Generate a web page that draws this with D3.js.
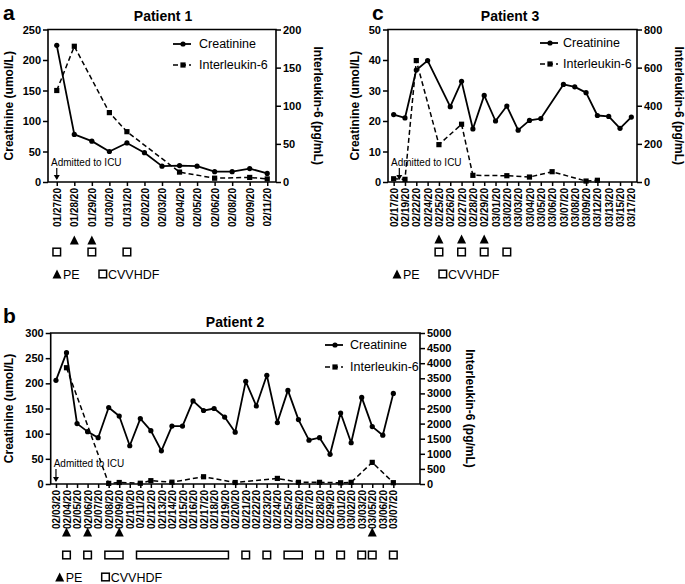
<!DOCTYPE html>
<html>
<head>
<meta charset="UTF-8">
<title>Creatinine and Interleukin-6</title>
<script src="https://cdnjs.cloudflare.com/ajax/libs/d3/7.8.5/d3.min.js"></script>
<style>
    html, body { margin: 0; padding: 0; background: #fff; }
    svg { font-family: "Liberation Sans", Arial, Helvetica, sans-serif; }
    .axis line { stroke: #000; stroke-width: 1.5; }
    .axis path { display: none; }
    .axis text { font-weight: bold; font-size: 11px; fill: #000; }
    .axis.x text { font-size: 10px; }
</style>
</head>
<body>
<div id="chart"></div>
<script>
// Patient 1
const p1Dates = ["01/27/20","01/28/20","01/29/20","01/30/20","01/31/20","02/02/20","02/03/20","02/04/20","02/05/20","02/06/20","02/08/20","02/09/20","02/11/20"];
const p1Creatinine = [224, 78, 67, 50, 64, 48, 26, 27, 26, 17, 17, 22, 14];
const p1IL6 = [120, 178, null, 91, 66, null, null, 13, null, 5, null, 6, 4];
const p1PE = ["01/28/20","01/29/20"];
const p1CVVHDF = [["01/27/20","01/27/20"],["01/29/20","01/29/20"],["01/31/20","01/31/20"]];

// Patient 2
const p2Dates = ["02/03/20","02/04/20","02/05/20","02/06/20","02/07/20","02/08/20","02/09/20","02/10/20","02/11/20","02/12/20","02/13/20","02/14/20","02/15/20","02/16/20","02/17/20","02/18/20","02/19/20","02/20/20","02/21/20","02/22/20","02/23/20","02/24/20","02/25/20","02/26/20","02/27/20","02/28/20","02/29/20","03/01/20","03/02/20","03/03/20","03/05/20","03/06/20","03/07/20"];
const p2Creatinine = [206, 261, 120, 104, 92, 152, 135, 76, 130, 106, 66, 115, 115, 165, 146, 150, 133, 103, 204, 155, 216, 122, 186, 128, 87, 92, 59, 141, 82, 172, 114, 97, 180];
const p2IL6 = [null, 3850, null, null, null, 20, 50, null, 25, 110, null, 60, null, null, 240, null, null, 50, null, null, null, 185, null, 55, null, 55, null, 40, 55, null, 716, null, 44];
const p2PE = ["02/04/20","02/06/20","02/09/20","03/05/20"];
const p2CVVHDF = [["02/04/20","02/04/20"],["02/06/20","02/06/20"],["02/08/20","02/09/20"],["02/11/20","02/19/20"],["02/21/20","02/21/20"],["02/23/20","02/23/20"],["02/25/20","02/26/20"],["02/28/20","02/28/20"],["03/01/20","03/01/20"],["03/03/20","03/03/20"],["03/05/20","03/05/20"],["03/07/20","03/07/20"]];

// Patient 3
const p3Dates = ["02/17/20","02/19/20","02/22/20","02/24/20","02/25/20","02/26/20","02/27/20","02/28/20","02/29/20","03/01/20","03/02/20","03/03/20","03/04/20","03/05/20","03/06/20","03/07/20","03/08/20","03/09/20","03/12/20","03/13/20","03/15/20","03/17/20"];
const p3Creatinine = [22.1, 21.0, 36.7, 39.8, null, 24.7, 33.0, 17.4, 28.4, 20.0, 24.9, 17.0, 20.2, 20.8, null, 32.0, 31.2, 29.3, 21.8, 21.5, 17.6, 21.3];
const p3IL6 = [17, 14, 637, null, 196, null, 303, 35, null, null, 33, null, 26, null, 54, null, null, 5, 9, null, null, null];
const p3PE = ["02/25/20","02/27/20","02/29/20"];
const p3CVVHDF = [["02/25/20","02/25/20"],["02/27/20","02/27/20"],["02/29/20","02/29/20"],["03/02/20","03/02/20"]];

let svg = d3.select("#chart").append("svg")
        .attr("width", 685)
        .attr("height", 584);

function drawPanel(o){
    let g = svg.append("g");

    let x = d3.scalePoint()
            .domain(o.dates)
            .range([o.left, o.xEnd])
            .padding(0.5);
    let yL = d3.scaleLinear().domain([0, o.maxL]).range([o.bottom, o.top]);
    let yR = d3.scaleLinear().domain([0, o.maxR]).range([o.bottom, o.top]);

    // panel letter and title
    g.append("text").attr("x", o.letterX).attr("y", o.letterY)
        .style("font-size", "21px").style("font-weight", "bold").text(o.letter);
    g.append("text").attr("x", o.titleX).attr("y", o.titleY)
        .attr("text-anchor", "middle")
        .style("font-size", "14px").style("font-weight", "bold").text(o.title);

    // axes
    g.append("g").attr("class", "axis y")
        .attr("transform", "translate(" + o.left + ",0)")
        .call(d3.axisLeft(yL).tickValues(d3.range(0, o.maxL + 1, o.stepL)).tickFormat(d3.format("d")).tickSize(5).tickPadding(2));
    g.append("g").attr("class", "axis y")
        .attr("transform", "translate(" + o.right + ",0)")
        .call(d3.axisRight(yR).tickValues(d3.range(0, o.maxR + 1, o.stepR)).tickFormat(d3.format("d")).tickSize(5).tickPadding(2));
    let xa = g.append("g").attr("class", "axis x")
        .attr("transform", "translate(0," + o.bottom + ")")
        .call(d3.axisBottom(x).tickSize(4));
    xa.selectAll("text")
        .attr("transform", "rotate(-90)")
        .attr("text-anchor", "end")
        .attr("x", -6)
        .attr("y", 0)
        .attr("dy", "0.36em");

    // frame
    g.append("path")
        .attr("d", "M" + o.left + "," + o.top + "V" + o.bottom + "H" + o.right + "V" + o.top + "Z")
        .attr("fill", "none").attr("stroke", "#000").attr("stroke-width", 1.6);

    // axis titles
    g.append("text")
        .attr("transform", "translate(" + o.leftTitleX + "," + ((o.top + o.bottom) / 2) + ") rotate(-90)")
        .attr("text-anchor", "middle").attr("dy", "0.35em")
        .style("font-size", "12px").style("font-weight", "bold")
        .text("Creatinine (umol/L)");
    g.append("text")
        .attr("transform", "translate(" + o.rightTitleX + "," + ((o.top + o.bottom) / 2) + ") rotate(90)")
        .attr("text-anchor", "middle").attr("dy", "0.35em")
        .style("font-size", "12px").style("font-weight", "bold")
        .text("Interleukin-6 (pg/mL)");

    // series
    let cre = o.dates.map((d, i) => ({d: d, v: o.creatinine[i]})).filter(p => p.v != null);
    let il6 = o.dates.map((d, i) => ({d: d, v: o.il6[i]})).filter(p => p.v != null);

    g.append("path").datum(il6)
        .attr("fill", "none").attr("stroke", "#000").attr("stroke-width", 1.5)
        .attr("stroke-dasharray", "5 3")
        .attr("d", d3.line().x(p => x(p.d)).y(p => yR(p.v)));
    g.append("path").datum(cre)
        .attr("fill", "none").attr("stroke", "#000").attr("stroke-width", 1.8)
        .attr("stroke-linejoin", "round")
        .attr("d", d3.line().x(p => x(p.d)).y(p => yL(p.v)));

    g.selectAll(null).data(il6).enter().append("rect")
        .attr("x", p => x(p.d) - 2.6).attr("y", p => yR(p.v) - 2.6)
        .attr("width", 5.2).attr("height", 5.2).attr("fill", "#000");
    g.selectAll(null).data(cre).enter().append("circle")
        .attr("cx", p => x(p.d)).attr("cy", p => yL(p.v))
        .attr("r", 2.6).attr("fill", "#000");

    // legend
    let lg = g.append("g").attr("transform", "translate(" + o.legX + "," + o.legY + ")");
    lg.append("line").attr("x1", 0).attr("x2", 18).attr("y1", 0).attr("y2", 0)
        .attr("stroke", "#000").attr("stroke-width", 1.8);
    lg.append("circle").attr("cx", 10).attr("cy", 0).attr("r", 2.6);
    lg.append("text").attr("x", o.legText).attr("y", 0).attr("dy", "0.35em")
        .style("font-size", "12.5px").text("Creatinine");
    lg.append("line").attr("x1", 0).attr("x2", 18).attr("y1", o.legGap).attr("y2", o.legGap)
        .attr("stroke", "#000").attr("stroke-width", 1.5).attr("stroke-dasharray", "5 3");
    lg.append("rect").attr("x", 7.4).attr("y", o.legGap - 2.6).attr("width", 5.2).attr("height", 5.2);
    lg.append("text").attr("x", o.legText).attr("y", o.legGap).attr("dy", "0.35em")
        .style("font-size", "12.5px").text("Interleukin-6");

    // admitted to ICU
    let ax = o.admitMid ? (x(o.dates[0]) + x(o.dates[1])) / 2 : x(o.dates[0]);
    g.append("text").attr("x", o.left + 3).attr("y", o.admitY)
        .style("font-size", "10px").text("Admitted to ICU");
    g.append("line").attr("x1", ax).attr("x2", ax)
        .attr("y1", o.admitY + 2).attr("y2", o.bottom - 3)
        .attr("stroke", "#000").attr("stroke-width", 1.2);
    g.append("path")
        .attr("d", "M" + (ax - 3) + "," + (o.bottom - 7) + "L" + ax + "," + (o.bottom - 2) + "L" + (ax + 3) + "," + (o.bottom - 7) + "Z")
        .attr("fill", "#000");

    // treatments
    let tri = (cx, cy) => "M" + (cx - 4.5) + "," + (cy + 4.5) + "L" + (cx + 4.5) + "," + (cy + 4.5) + "L" + cx + "," + (cy - 4.5) + "Z";
    g.selectAll(null).data(o.pe).enter().append("path")
        .attr("d", d => tri(x(d), o.peY)).attr("fill", "#000");
    g.selectAll(null).data(o.cv).enter().append("rect")
        .attr("x", d => x(d[0]) - 3.8).attr("y", o.cvY - 3.8)
        .attr("width", d => x(d[1]) - x(d[0]) + 7.6).attr("height", 7.6)
        .attr("fill", "#fff").attr("stroke", "#000").attr("stroke-width", 1.5);

    // treatment legend
    g.append("path").attr("d", tri(o.left + 9, o.keyY)).attr("fill", "#000");
    g.append("text").attr("x", o.left + 15).attr("y", o.keyY).attr("dy", "0.38em")
        .style("font-size", "12.5px").text("PE");
    g.append("rect").attr("x", o.left + 51).attr("y", o.keyY - 3.8)
        .attr("width", 7.6).attr("height", 7.6)
        .attr("fill", "#fff").attr("stroke", "#000").attr("stroke-width", 1.5);
    g.append("text").attr("x", o.left + 60).attr("y", o.keyY).attr("dy", "0.38em")
        .style("font-size", "12.5px").text("CVVHDF");
}

drawPanel({
    dates: p1Dates, creatinine: p1Creatinine, il6: p1IL6, pe: p1PE, cv: p1CVVHDF,
    left: 48, right: 276, xEnd: 276, top: 29.5, bottom: 182,
    maxL: 250, stepL: 50, maxR: 200, stepR: 50,
    letter: "a", letterX: 3, letterY: 19.5, title: "Patient 1", titleX: 163, titleY: 21,
    leftTitleX: 9, rightTitleX: 318,
    legX: 173, legY: 44, legGap: 21, legText: 26,
    admitY: 166, admitMid: false,
    peY: 240, cvY: 252, keyY: 274
});

drawPanel({
    dates: p3Dates, creatinine: p3Creatinine, il6: p3IL6, pe: p3PE, cv: p3CVVHDF,
    left: 388, right: 637, xEnd: 637, top: 29.5, bottom: 182,
    maxL: 50, stepL: 10, maxR: 800, stepR: 200,
    letter: "c", letterX: 372, letterY: 19.5, title: "Patient 3", titleX: 510, titleY: 21,
    leftTitleX: 355, rightTitleX: 679,
    legX: 540, legY: 43, legGap: 21, legText: 23,
    admitY: 166, admitMid: true,
    peY: 239, cvY: 252, keyY: 274
});

drawPanel({
    dates: p2Dates, creatinine: p2Creatinine, il6: p2IL6, pe: p2PE, cv: p2CVVHDF,
    left: 50.7, right: 420, xEnd: 398.6, top: 333, bottom: 484,
    maxL: 300, stepL: 50, maxR: 5000, stepR: 500,
    letter: "b", letterX: 3, letterY: 323, title: "Patient 2", titleX: 235, titleY: 327,
    leftTitleX: 9, rightTitleX: 470,
    legX: 325, legY: 345, legGap: 22, legText: 25,
    admitY: 467, admitMid: false,
    peY: 532, cvY: 555, keyY: 577
});
</script>
</body>
</html>
